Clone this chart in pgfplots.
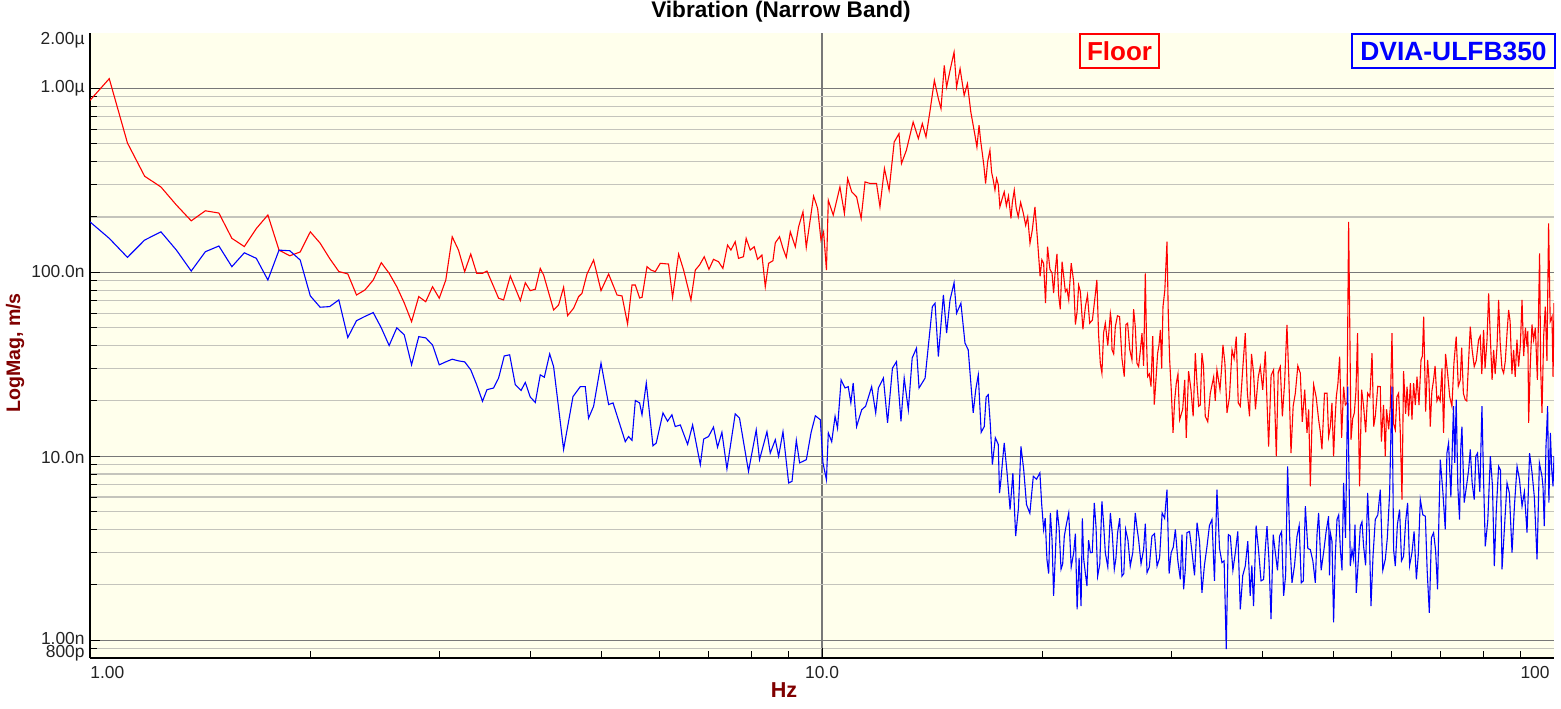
\documentclass[border=0pt]{standalone}
\usepackage{fontspec}
\setmainfont{Liberation Sans}
\usepackage{pgfplots}
\usepackage{pgfplotstable}
\pgfplotsset{compat=1.18}
\definecolor{bgy}{RGB}{255,255,236}
\definecolor{dred}{RGB}{128,0,0}
\definecolor{majg}{RGB}{120,120,120}
\definecolor{ming}{RGB}{196,196,188}
\definecolor{tcol}{RGB}{35,35,35}

\pgfplotstableread{
f v
1.0 861
1.0625 1129
1.125 505
1.1875 333
1.25 291
1.3125 232
1.375 190.5
1.4375 216
1.5 210
1.5625 153
1.625 138
1.6875 173
1.75 205
1.8125 132
1.875 123
1.9375 129
2.0 166
2.0625 144
2.125 119
2.1875 101
2.25 98
2.3125 75.3
2.375 80.2
2.4375 90.8
2.5 112.8
2.5625 98.8
2.625 83.5
2.6875 68.1
2.75 53.9
2.8125 73.8
2.875 69.2
2.9375 83.5
3.0 72.3
3.0625 90.8
3.125 156
3.1875 132
3.25 100.8
3.3125 125.7
3.375 98.8
3.4375 98.8
3.486 101.6
3.616 72.3
3.673 70.8
3.752 95.5
3.872 70.2
3.933 87.8
3.995 79.5
4.058 80.9
4.122 105
4.166 96.7
4.299 62.4
4.367 66.5
4.436 82.9
4.492 58.1
4.578 63.8
4.650 73.7
4.700 76.9
4.775 97.9
4.875 116.6
4.990 79.5
5.111 97.9
5.248 75.3
5.331 74.4
5.425 52.4
5.501 85.3
5.559 85.3
5.634 72.5
5.677 73.1
5.767 107.3
5.840 102.9
5.919 100.8
6.013 111.9
6.171 110.9
6.250 73.1
6.370 125.7
6.471 102.9
6.622 70.8
6.713 102.9
6.804 109.6
6.905 121.5
7.008 103.8
7.109 117.6
7.221 114.2
7.322 105
7.430 140.6
7.510 132.1
7.612 146.6
7.691 119.1
7.812 121.5
7.878 152.9
7.980 132.1
8.080 137.7
8.166 117.6
8.279 124.1
8.366 83.5
8.453 111.9
8.570 115.6
8.634 144.7
8.750 156.1
8.845 134.9
8.937 120.6
9.051 166.1
9.195 137.7
9.290 176.8
9.419 213.3
9.517 136.6
9.739 259.4
9.863 222.5
9.968 149.7
10.05 166.1
10.14 102.9
10.20 246.7
10.36 204.7
10.58 291.3
10.73 209
10.84 323.6
10.98 273.7
11.15 257.1
11.31 196.3
11.45 310.2
11.63 304
11.87 304
12.00 227
12.17 366.6
12.35 279.6
12.55 511.3
12.74 567.7
12.84 390.3
13.04 460.9
13.32 656.6
13.54 533.5
13.71 643.4
13.87 544.3
14.05 759.7
14.24 1105
14.42 879.4
14.54 776
14.69 1333
14.80 1016
14.96 1252
15.15 1574
15.27 1016
15.44 1279
15.64 916.3
15.80 1060
15.97 743.8
16.18 555.9
16.28 480
16.39 629.9
16.47 520
16.56 442.2
16.64 380
16.73 304
16.84 400
16.96 460.9
17.05 350
17.14 316.8
17.23 280
17.32 323.6
17.41 300
17.50 227
17.62 250
17.74 273.7
17.86 230
17.98 260
18.12 196.3
18.2 240
18.31 279.6
18.42 225
18.54 200.3
18.68 240
18.84 209
18.98 180
19.1 200
19.24 143.7
19.38 170
19.54 227
19.7 150
19.86 95
19.97 117
20.08 111.9
20.2 68
20.33 137.7
20.48 104
20.62 98.8
20.72 77
20.83 102.9
20.94 126
21.05 75.3
21.16 63
21.28 114.2
21.39 95
21.50 78.5
21.61 81
21.73 70.8
21.9 112
22.07 88.9
22.19 52
22.31 61.1
22.42 85
22.54 78.5
22.72 49
22.90 65.1
23.05 75
23.21 52.9
23.41 55
23.62 75.3
23.74 91
23.87 45.7
24.0 32
24.12 28.3
24.25 47
24.38 52.9
24.57 40
24.77 59.9
24.83 56
24.90 37.9
25.03 36
25.16 50.7
25.33 58
25.50 57.4
25.69 34
25.88 27.1
26.01 52
26.15 52.9
26.33 38
26.51 33.4
26.65 63
26.79 50.7
26.93 32
27.07 30.7
27.21 37
27.36 46.7
27.5 31
27.65 98.8
27.75 44
27.85 27.1
28.0 28
28.15 23.9
28.3 45
28.44 19.1
28.59 26
28.74 36.3
28.86 40
28.99 48.6
29.11 30
29.23 65.1
29.4 80
29.60 146.6
29.72 60
29.85 33.4
30.0 23
30.17 13.4
30.32 20
30.48 25.0
30.64 28
30.80 15.8
31.1 18
31.3 26
31.45 12.6
31.68 29
31.92 23.0
32.14 16.5
32.36 36.3
32.53 25
32.70 18.7
32.87 19
33.04 36.3
33.2 31
33.39 16.5
33.65 15.4
33.92 22.0
34.28 27
34.45 20
34.64 29.5
34.97 23
35.15 30
35.30 40.3
35.52 32
35.75 17.2
36.03 21
36.32 37.9
36.56 34
36.81 44.7
37.04 19.5
37.28 18.7
37.57 30
37.87 46.7
38.12 22
38.38 16.5
38.62 36
38.87 28.3
39.1 18
39.45 27
39.70 30.7
40.0 23
40.33 37.1
40.54 20
40.75 11.3
41.07 27.5
41.39 29.5
41.57 17.6
41.75 10.0
42.0 28.6
42.27 30.7
42.55 16.5
42.85 25
43.17 51.8
43.45 25
43.72 10.4
44.02 18.7
44.32 22.0
44.67 31
45.02 28.3
45.3 15.4
45.65 23
45.98 13.4
46.22 18
46.46 6.87
46.7 15
46.95 24.5
47.32 21
47.69 15.8
47.94 13.6
48.19 10.9
48.58 22
48.97 22.0
49.22 12.8
49.48 14.5
49.73 19.5
49.99 10.0
50.2 15.3
50.42 21.1
50.68 25
50.95 34.8
51.27 12.6
51.59 23.9
51.87 19
52.15 19.5
52.41 188.1
52.81 12.3
53.08 16
53.36 17.2
53.63 22.5
53.91 46.7
54.08 14.4
54.25 6.87
54.6 23
54.94 18.7
55.3 13.5
55.64 22.0
56.03 21
56.42 36.3
56.71 14.5
57.0 16.5
57.45 24
57.90 23.9
58.1 12
58.5 19
58.82 10.0
59.05 18
59.45 14
59.76 18.7
60.07 46.7
60.38 15
60.70 13.9
61.0 21
61.33 22.0
61.66 13.6
61.99 5.81
62.3 29
62.7 17
62.99 23.9
63.3 16.5
63.65 25
63.97 15.8
64.3 25
64.65 19
64.99 27.1
65.4 19
65.82 33.4
66.1 35
66.37 57.4
66.78 17.5
67.20 33.4
67.48 26
67.76 14.5
68.1 22.5
68.47 26.0
68.8 31
69.2 20
69.55 21.1
69.9 20
70.3 30
70.66 13.4
71.1 36
71.55 28.3
72.05 21
72.54 18.7
73.0 32
73.52 44.7
74.0 24
74.47 26.0
74.8 39
75.2 22
75.64 20.3
76.0 20
76.45 33
76.86 50.7
77.3 38
77.82 30.7
78.3 33
78.88 42.9
79.3 45
79.7 28
80.13 48.6
80.5 30
81.0 43
81.41 76.9
81.8 47
82.3 26
82.70 37.9
83.1 28
83.6 40
84.01 70.8
84.4 42
84.9 30
85.34 28.3
85.8 33
86.3 48
86.70 62.4
87.1 54
87.6 28
88.07 37.9
88.5 27
89.0 43
89.46 30.7
89.95 40
90.43 70.8
90.9 35
91.4 50
91.86 39.5
92.1 48
92.33 15.2
92.8 31
93.3 52
93.78 42.9
94.3 50
94.9 26
95.56 126.8
95.9 30
96.29 17.2
96.8 45
97.29 65.1
97.8 33
98.31 184.4
98.8 54
99.37 57.4
99.7 27
100 67.9
}\floortab

\pgfplotstableread{
f v
1.0 188
1.0625 153
1.125 120.6
1.1875 149.7
1.25 166
1.3125 132
1.375 101.6
1.4375 129.4
1.5 139
1.5625 107.3
1.625 127.7
1.6875 119.1
1.75 90.8
1.8125 132
1.875 131
1.9375 116.6
2.0 74.4
2.0625 64.6
2.125 65.1
2.1875 70.8
2.25 44.2
2.3125 54.6
2.375 57.6
2.4375 60.4
2.5 49.9
2.5625 40
2.625 49.9
2.6875 45.7
2.75 31.4
2.8125 44.7
2.875 44
2.9375 40.3
3.0 31.4
3.0625 32.6
3.125 33.7
3.1875 33
3.25 32.6
3.3125 29.5
3.375 24.5
3.4375 19.9
3.486 23.0
3.559 23.5
3.616 26.6
3.681 35.1
3.744 35.6
3.811 24.5
3.881 22.8
3.933 25.2
3.995 21.0
4.058 19.6
4.122 27.7
4.175 26.9
4.246 36.0
4.299 30.7
4.436 10.9
4.569 21.1
4.675 23.9
4.749 23.9
4.798 16.1
4.875 18.7
4.990 32.1
5.111 19.1
5.182 19.5
5.386 12.0
5.442 12.8
5.501 12.2
5.559 20.1
5.634 19.5
5.677 16.8
5.754 25.0
5.876 11.4
5.937 11.8
6.064 17.2
6.152 15.5
6.237 16.8
6.303 14.5
6.404 14.8
6.553 11.6
6.657 14.8
6.82 9.0
6.892 12.4
6.998 12.8
7.109 14.4
7.2 11.2
7.3 13.5
7.416 8.53
7.612 17.0
7.716 16.1
7.937 8.28
8.131 13.9
8.216 9.58
8.41 13.6
8.498 10.4
8.634 12.3
8.724 10.0
8.845 13.6
9.004 7.16
9.1 7.31
9.224 12.2
9.32 9.2
9.519 9.58
9.66 13.4
9.792 16.6
9.947 15.8
10.03 9.2
10.14 7.46
10.20 13.4
10.31 12.0
10.42 16.5
10.50 14.2
10.62 26.0
10.75 23.5
10.86 23.9
10.95 19.5
11.03 25.0
11.15 14.5
11.33 17.9
11.47 18.7
11.69 23.9
11.84 17.2
11.94 23.5
12.13 26.6
12.29 15.2
12.48 30.1
12.64 32.7
12.82 15.5
12.95 26.6
13.12 17.9
13.28 34.2
13.46 38.7
13.57 23.5
13.83 26.6
13.97 39.5
14.15 65.1
14.27 67.9
14.42 34.8
14.65 75.3
14.80 46.7
14.96 70.8
15.15 87.8
15.27 59.9
15.48 67.9
15.68 41.2
15.84 37.9
16.09 17.2
16.22 23
16.35 27.7
16.5 13.5
16.66 14.5
16.76 21
16.87 21.6
16.98 15
17.09 9.0
17.25 12.6
17.41 11.6
17.48 6.3
17.56 7.46
17.65 9.5
17.74 11.8
17.9 8.1
18.07 5.13
18.23 8.1
18.39 3.68
18.55 5.2
18.70 11.3
18.86 8.5
19.03 5.46
19.23 4.9
19.44 7.78
19.64 7.5
19.85 8.12
19.96 5.5
20.08 4.00
20.18 4.6
20.29 2.75
20.4 2.3
20.51 4.92
20.62 3.5
20.72 1.74
20.84 3.0
20.95 5.13
21.08 4.1
21.21 2.43
21.32 2.6
21.43 3.68
21.58 4.3
21.73 4.92
21.9 2.5
22.07 2.99
22.19 3.8
22.31 1.47
22.45 2.8
22.59 1.53
22.68 4.6
22.78 2.75
22.9 2.3
23.01 1.97
23.13 3.5
23.26 2.99
23.4 3.0
23.55 5.58
23.68 4.1
23.80 2.23
23.96 2.6
24.12 5.69
24.25 4.3
24.38 2.99
24.57 2.5
24.77 4.92
24.92 3.8
25.08 2.43
25.21 2.8
25.34 3.84
25.51 4.6
25.69 2.23
25.84 2.3
25.99 4.00
26.18 3.5
26.37 2.53
26.58 3.0
26.79 4.92
26.93 4.1
27.07 3.53
27.28 2.6
27.50 3.11
27.65 4.3
27.80 2.33
28.0 2.5
28.23 3.68
28.46 3.8
28.69 2.53
28.92 2.8
29.15 4.92
29.38 4.6
29.60 6.59
29.8 2.3
29.99 2.99
30.19 3.2
30.39 4.00
30.63 2.7
30.87 2.14
31.03 3.75
31.19 1.89
31.35 2.4
31.52 3.84
31.78 3.9
32.03 2.99
32.28 2.25
32.54 4.35
32.79 3.45
33.04 1.81
33.3 2.55
33.57 3.24
33.83 4.2
34.10 4.53
34.37 2.1
34.64 6.59
34.92 3.15
35.19 2.64
35.43 2.7
35.67 0.893
35.9 3.75
36.13 3.68
36.42 2.4
36.70 2.99
36.99 3.9
37.28 1.47
37.57 2.25
37.87 2.53
38.17 3.45
38.46 1.74
38.66 2.55
38.87 1.53
39.18 4.2
39.48 3.11
39.8 2.1
40.11 2.14
40.33 3.15
40.54 4.17
40.8 2.7
41.06 1.30
41.34 3.75
41.62 2.99
41.9 2.4
42.18 3.68
42.45 3.9
42.72 1.74
42.99 2.25
43.26 8.81
43.56 3.45
43.86 2.05
44.21 2.55
44.56 3.68
44.86 4.2
45.16 2.05
45.45 2.1
45.74 5.35
46.1 3.15
46.46 3.11
46.83 2.7
47.20 2.05
47.45 3.75
47.69 4.92
48.07 2.4
48.44 2.99
48.83 3.9
49.21 4.72
49.35 2.25
49.48 3.84
49.74 3.45
49.99 1.25
50.26 2.9
50.53 4.53
50.8 4.8
51.07 3.11
51.33 2.4
51.59 7.16
51.9 3.6
52.26 23.9
52.69 2.53
52.97 3.1
53.24 2.75
53.47 4.25
53.69 1.81
54.03 2.7
54.38 4.17
54.66 4.4
54.94 3.24
55.29 2.55
55.64 6.32
55.93 3.9
56.23 1.53
56.6 2.9
57.0 4.53
57.45 4.8
57.90 6.59
58.36 2.4
58.82 2.75
59.2 3.6
59.63 6.32
60.07 23.9
60.38 3.1
60.70 2.53
61.1 4.25
61.53 5.13
61.9 2.7
62.30 2.86
62.7 4.4
63.10 5.58
63.5 2.55
63.97 2.99
64.4 3.9
64.86 2.14
65.25 2.9
65.67 5.81
66.2 4.8
66.72 4.72
67.1 2.4
67.56 1.41
68.0 3.6
68.47 3.84
68.9 3.1
69.34 1.89
69.6 4.25
69.93 9.58
70.5 6.4
71.04 4.00
71.4 10.4
71.78 11.8
72.3 6
72.90 18.7
73.2 9.2
73.52 20.3
73.9 6.8
74.30 4.53
74.6 11.2
74.86 14.5
75.4 5.6
76.04 7.16
76.45 8.4
76.86 10.9
77.3 7.2
77.82 5.81
78.2 10
78.63 10.4
79.2 6.4
79.73 18.7
80.1 7.8
80.56 3.24
81.2 4.5
81.85 10.0
82.4 6.9
82.88 2.53
83.4 5.1
84.01 8.81
84.5 8.4
84.92 2.43
85.6 4.2
86.26 7.16
86.9 6.3
87.63 2.99
88.3 5.4
89.03 8.81
89.7 7.5
90.43 5.35
91.1 6.4
91.86 3.84
92.6 10.4
93.33 8.12
94.0 6
94.80 2.75
95.5 9.2
96.29 7.78
96.6 6.8
96.98 4.17
97.5 11.2
98.01 18.7
98.4 5.6
98.86 13.4
99.3 8.4
99.69 6.87
100 10.0
}\dviatab

\newcommand\tk{\fontsize{8.7pt}{9pt}\selectfont\color{tcol}}

\begin{document}
\begin{tikzpicture}
\useasboundingbox (0,0) rectangle (780.5pt,354pt);
\begin{axis}[
  at={(45pt,25pt)}, anchor=south west,
  scale only axis, width=732pt, height=312.5pt,
  xmode=log, ymode=log,
  xmin=1, xmax=100, ymin=0.8, ymax=2000,
  axis x line=bottom, axis y line=left,
  axis line style={-, line width=1pt, black},
  axis background/.style={fill=bgy},
  xtick={10}, xticklabel=\empty,
  minor xtick={2,3,4,5,6,7,8,9,20,30,40,50,60,70,80,90},
  ytick={1,10,100,1000}, yticklabel=\empty,
  minor ytick={0.9,2,3,4,5,6,7,8,9,20,30,40,50,60,70,80,90,200,300,400,500,600,700,800,900},
  tick align=inside,
  major tick length=5pt, minor tick length=3.5pt,
  tick style={black, line width=0.5pt},
  xmajorgrids, ymajorgrids, yminorgrids,
  major grid style={majg, line width=0.6pt},
  minor grid style={ming, line width=0.6pt},
]
\addplot[red, line width=0.55pt, no markers] table[x=f, y=v] {\floortab};
\addplot[blue, line width=0.55pt, no markers] table[x=f, y=v] {\dviatab};
\end{axis}
\node[font=\fontsize{11.3pt}{12pt}\selectfont\bfseries] at (390.5pt,348pt) {Vibration (Narrow Band)};
\node[font=\tk, anchor=east, inner sep=0pt] at (42.5pt,334pt) {2.00µ};
\node[font=\tk, anchor=east, inner sep=0pt] at (42.5pt,310pt) {1.00µ};
\node[font=\tk, anchor=east, inner sep=0pt] at (42.5pt,218pt) {100.0n};
\node[font=\tk, anchor=east, inner sep=0pt] at (42.5pt,125.25pt) {10.0n};
\node[font=\tk, anchor=east, inner sep=0pt] at (42.5pt,34.5pt) {1.00n};
\node[font=\tk, anchor=east, inner sep=0pt] at (42.5pt,27.5pt) {800p};
\node[font=\tk, anchor=west, inner sep=0pt] at (45pt,17.5pt) {1.00};
\node[font=\tk, inner sep=0pt] at (411pt,17.5pt) {10.0};
\node[font=\tk, inner sep=0pt] at (767.5pt,17.5pt) {100};
\node[font=\fontsize{10.8pt}{12pt}\selectfont\bfseries, text=dred, inner sep=0pt] at (392pt,9pt) {Hz};
\node[font=\fontsize{9.8pt}{12pt}\selectfont\bfseries, text=dred, rotate=90, inner sep=0pt] at (7.5pt,177.5pt) {LogMag, m/s};
\node[draw=red, line width=0.75pt, fill=bgy, minimum width=39.5pt, minimum height=17pt, inner sep=0pt, text=red, font=\fontsize{13pt}{14pt}\selectfont\bfseries] at (559.75pt,328.5pt) {Floor};
\node[draw=blue, line width=0.75pt, fill=bgy, minimum width=101.5pt, minimum height=17pt, inner sep=0pt, text=blue, font=\fontsize{13.2pt}{14pt}\selectfont\bfseries] at (726.75pt,328.5pt) {DVIA-ULFB350};
\end{tikzpicture}
\end{document}
